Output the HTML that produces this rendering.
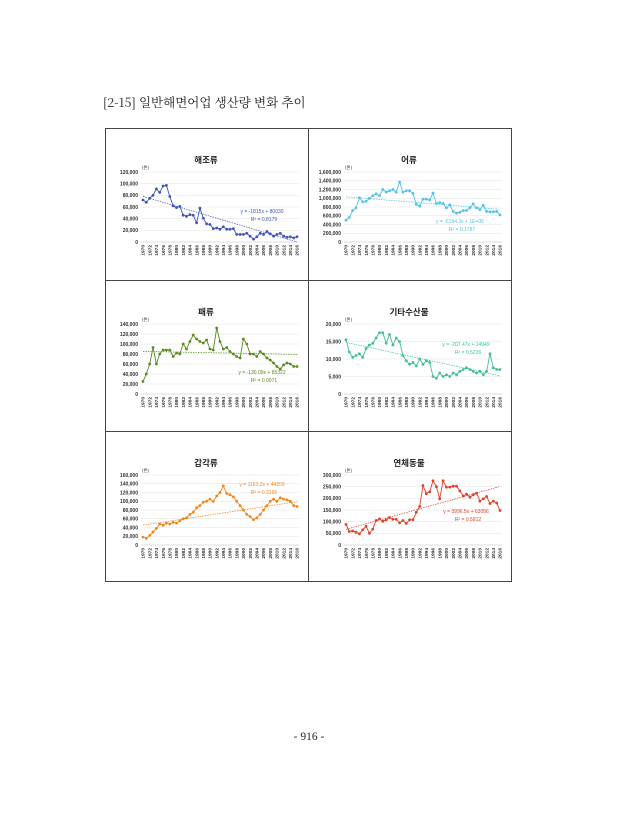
<!DOCTYPE html>
<html><head><meta charset="utf-8"><style>
html,body{margin:0;padding:0;background:#fff;width:618px;height:840px;overflow:hidden}
svg{position:absolute;left:0;top:0}
</style></head><body>
<svg id="s" width="618" height="840" xmlns="http://www.w3.org/2000/svg" font-family="Liberation Sans, Noto Sans CJK KR, sans-serif">
<text x="103" y="107" font-size="12.5" font-family="Noto Serif CJK SC, Liberation Serif, serif" fill="#222">[2-15] 일반해면어업 생산량 변화 추이</text>
<rect x="105.5" y="128.5" width="406" height="453" fill="none" stroke="#444" stroke-width="1"/>
<line x1="308.5" y1="128" x2="308.5" y2="582" stroke="#444"/>
<line x1="105" y1="280.5" x2="512" y2="280.5" stroke="#444"/>
<line x1="105" y1="431.5" x2="512" y2="431.5" stroke="#444"/>
<text x="309" y="740" font-size="11.5" text-anchor="middle" font-family="Liberation Serif, serif" fill="#222">- 916 -</text>
<g id="g"></g>
</svg>
<script>
var P=[
{x:105,y:128,t:"해조류",c:"#3f55b8",max:120000,st:20000,m:-1815,b:80030,eq:"y = -1815x + 80030",r:"R² = 0.8179",ex:262,ey:213,
d:[72,68,75,80,91,85,96,97,78,62,59,61,46,44,47,46,33,58,41,31,30,23,24,22,26,22,22,23,13,13,13,15,10,5,9,15,13,18,14,10,13,15,10,8,9,7,9],k:1000},
{x:308,y:128,t:"어류",c:"#4fc3e6",max:1600000,st:200000,m:-6194.3,b:1040000,eq:"y = -6194.3x + 1E+06",r:"R² = 0.1787",ex:460,ey:223,
d:[500,560,720,780,1010,920,930,1000,1060,1100,1060,1200,1140,1170,1200,1140,1370,1140,1170,1170,1110,860,820,980,980,960,1120,880,900,880,780,850,700,660,680,720,720,780,870,780,740,840,700,690,690,700,620],k:1000},
{x:105,y:280,t:"패류",c:"#5a8a1e",max:140000,st:20000,m:-130.09,b:85322,eq:"y = -130.09x + 85322",r:"R² = 0.0071",ex:262,ey:374,
d:[25,40,60,93,60,80,88,88,88,75,82,80,100,90,105,118,110,105,102,108,90,88,132,105,90,93,85,80,75,72,110,100,80,80,75,85,80,72,68,62,55,50,58,62,60,55,55],k:1000},
{x:308,y:280,t:"기타수산물",c:"#3fbf9a",max:20000,st:5000,m:-207.47,b:14949,eq:"y = -207.47x + 14949",r:"R² = 0.5226",ex:466,ey:346,
d:[15500,12000,10500,11000,11500,10500,13000,14000,14500,16000,17500,17500,14500,17000,14000,16000,15000,11000,9500,8500,9000,8000,10000,8500,9500,9000,5000,4500,6000,5000,5500,5000,6000,5500,6500,7000,7500,7000,6500,6000,6500,5500,6500,11500,7500,7000,7000],k:1},
{x:105,y:431,t:"갑각류",c:"#f0861e",max:160000,st:20000,m:1163.2,b:44259,eq:"y = 1163.2x + 44259",r:"R² = 0.3165",ex:262,ey:486,
d:[18,15,22,30,38,48,45,50,48,52,50,55,60,62,70,75,85,90,98,100,105,100,112,120,135,118,115,110,100,90,80,70,65,58,62,70,80,90,100,105,100,108,105,103,100,90,88],k:1000},
{x:308,y:431,t:"연체동물",c:"#e0402a",max:300000,st:50000,m:3996.5,b:63056,eq:"y = 3996.5x + 63056",r:"R² = 0.5912",ex:466,ey:513,
d:[88,58,60,55,48,65,80,50,68,105,112,102,108,118,110,110,95,105,92,108,108,140,165,255,220,228,275,250,198,275,248,248,252,252,232,210,218,205,215,222,188,198,208,178,188,180,148],k:1000}
];
function f(n){return n.toString().replace(/\B(?=(\d{3})+(?!\d))/g,",");}
var h="";
P.forEach(function(p){
 var L=p.x+36,R=p.x+194,T=p.y+44,B=p.y+114;
 function X(i){return L+2+i*(R-L-4)/46;}
 function Y(v){return B-v/p.max*(B-T);}
 h+='<text x="'+(p.x+101)+'" y="'+(p.y+35)+'" font-size="8.5" font-weight="bold" text-anchor="middle" fill="#222">'+p.t+'</text>';
 h+='<text x="'+(p.x+37)+'" y="'+(p.y+41)+'" font-size="4.5" fill="#444">(톤)</text>';
 for(var v=0;v<=p.max;v+=p.st){var y=Y(v);
  if(v>0)h+='<line x1="'+L+'" y1="'+y+'" x2="'+R+'" y2="'+y+'" stroke="#e2e2e2" stroke-width="0.5"/>';
  h+='<text x="'+(L-3)+'" y="'+(y+1.8)+'" font-size="5" font-weight="bold" text-anchor="end" fill="#333">'+f(v)+'</text>';}
 h+='<line x1="'+L+'" y1="'+B+'" x2="'+R+'" y2="'+B+'" stroke="#bbb" stroke-width="0.5"/>';
 for(var i=0;i<47;i+=2){var x=X(i);
  h+='<text transform="translate('+(x+1.7)+','+(B+3)+') rotate(-90)" font-size="4.8" font-weight="bold" text-anchor="end" fill="#333">'+(1970+i)+'</text>';}
 var pts=p.d.map(function(v,i){return X(i).toFixed(1)+","+Y(v*p.k).toFixed(1);});
 var y1=Y(p.m*1+p.b),y2=Y(p.m*47+p.b);
 h+='<line x1="'+X(0)+'" y1="'+y1+'" x2="'+X(46)+'" y2="'+Math.min(y2,B)+'" stroke="'+p.c+'" stroke-width="0.7" stroke-dasharray="1.5,1"/>';
 h+='<polyline points="'+pts.join(" ")+'" fill="none" stroke="'+p.c+'" stroke-width="0.9"/>';
 pts.forEach(function(q){var a=q.split(",");h+='<circle cx="'+a[0]+'" cy="'+a[1]+'" r="1.4" fill="'+p.c+'"/>';});
 h+='<text x="'+p.ex+'" y="'+p.ey+'" font-size="5" text-anchor="middle" fill="'+p.c+'">'+p.eq+'</text>';
 h+='<text x="'+(p.ex+2)+'" y="'+(p.ey+8)+'" font-size="5" text-anchor="middle" fill="'+p.c+'">'+p.r+'</text>';
});
document.getElementById("g").innerHTML=h;
</script>
</body></html>
